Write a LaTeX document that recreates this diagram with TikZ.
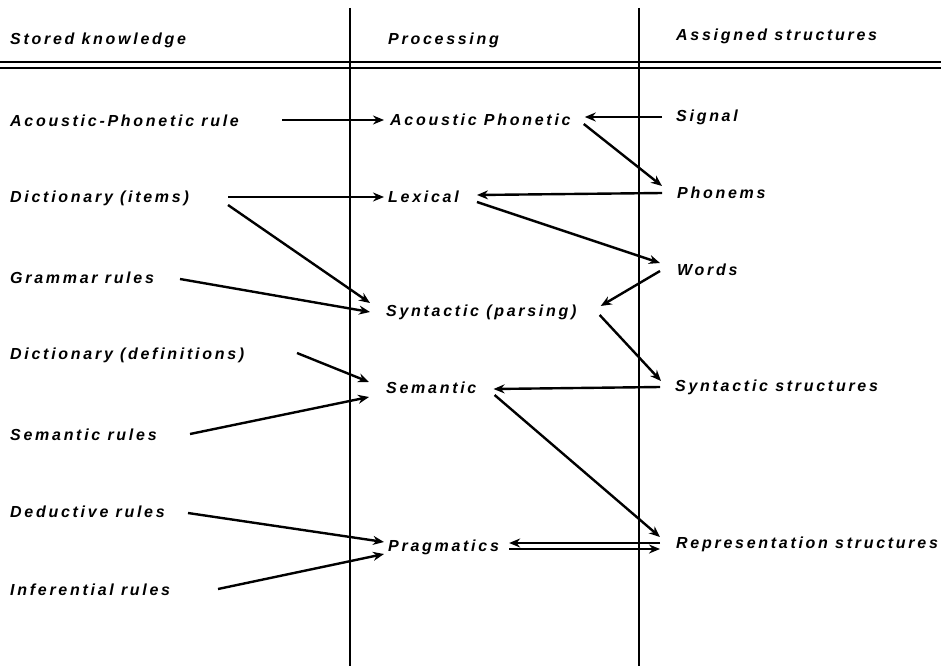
\documentclass[tikz,border=0pt]{standalone}
\usepackage{fontspec}
\setmainfont{Liberation Sans}[LetterSpace=17]
\usetikzlibrary{arrows.meta,calc}
\begin{document}
\begin{tikzpicture}[x=1pt,y=-1pt,
  lbl/.style={anchor=west, inner sep=0pt, font=\fontsize{16}{18}\selectfont\bfseries\itshape},
  arr/.style={line width=2.4pt, -{Stealth[length=11pt,width=9pt]}},
  rule/.style={line width=1.6pt}]
\useasboundingbox (0,0) rectangle (941,666);

% column separators and header rule
\draw[rule] (350,8) -- (350,666);
\draw[rule] (639,8) -- (639,666);
\draw[line width=2.2pt] (0,62) -- (941,62);
\draw[line width=2.2pt] (0,68) -- (941,68);

% headers
\node[lbl] (hsk)   at (10,40)  {Stored knowledge};
\node[lbl] (hproc) at (388,40) {Processing};
\node[lbl] (hasg)  at (676,36) {Assigned structures};

% stored knowledge
\node[lbl] (acr)  at (10,121) {Acoustic-Phonetic rule};
\node[lbl] (dit)  at (10,198) {Dictionary (items)};
\node[lbl] (gr)   at (10,278) {Grammar rules};
\node[lbl] (ddef) at (10,355) {Dictionary (definitions)};
\node[lbl] (sr)   at (10,435) {Semantic rules};
\node[lbl] (dr)   at (10,512) {Deductive rules};
\node[lbl] (ir)   at (10,590) {Inferential rules};

% processing
\node[lbl] (ap)   at (390,120) {Acoustic Phonetic};
\node[lbl] (lex)  at (388,197) {Lexical};
\node[lbl] (syn)  at (386,312) {Syntactic (parsing)};
\node[lbl] (sem)  at (386,388) {Semantic};
\node[lbl] (prag) at (388,547) {Pragmatics};

% assigned structures
\node[lbl] (sig) at (676,117) {Signal};
\node[lbl] (pho) at (677,193) {Phonems};
\node[lbl] (wor) at (677,270) {Words};
\node[lbl] (sst) at (675,387) {Syntactic structures};
\node[lbl] (rep) at (676,544) {Representation structures};

% connectors
\draw[arr] ($(acr.west)+(272,-1)$) -- ($(ap.west)+(-6,0)$);
\draw[arr] ($(sig.west)+(-14,0)$) -- ($(ap.east)+(14,-3)$);
\draw[arr] ($(ap.east)+(13,4)$) -- ($(pho.west)+(-15,-7)$);
\draw[arr] ($(pho.west)+(-15,0)$) -- ($(lex.east)+(18,-2)$);
\draw[arr] ($(lex.east)+(18,5)$) -- ($(wor.west)+(-17,-7)$);
\draw[arr] ($(dit.west)+(218,-1)$) -- ($(lex.west)+(-4,0)$);
\draw[arr] ($(dit.west)+(218,7)$) -- ($(syn.west)+(-16,-9)$);
\draw[arr] ($(gr.west)+(170,1)$) -- ($(syn.west)+(-16,0)$);
\draw[arr] ($(wor.west)+(-17,1)$) -- ($(syn.east)+(24,-6)$);
\draw[arr] ($(syn.east)+(23,3)$) -- ($(sst.west)+(-14,-6)$);
\draw[arr] ($(sst.west)+(-15,0)$) -- ($(sem.east)+(17,1)$);
\draw[arr] ($(ddef.west)+(287,-2)$) -- ($(sem.west)+(-17,-6)$);
\draw[arr] ($(sr.west)+(180,-1)$) -- ($(sem.west)+(-17,9)$);
\draw[arr] ($(sem.east)+(18,7)$) -- ($(rep.west)+(-16,-7)$);
\draw[arr] ($(dr.west)+(178,1)$) -- ($(prag.west)+(-4,-5)$);
\draw[arr] ($(ir.west)+(208,-1)$) -- ($(prag.west)+(-4,7)$);
\draw[arr] ($(rep.west)+(-16,-1)$) -- ($(prag.east)+(10,-4)$);
\draw[arr] ($(prag.east)+(10,2)$) -- ($(rep.west)+(-16,5)$);
\end{tikzpicture}
\end{document}
